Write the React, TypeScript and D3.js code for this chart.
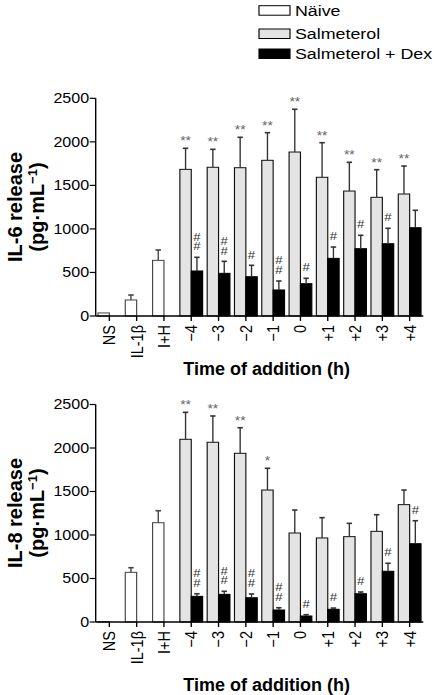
import React from 'react';
import * as d3 from 'd3';

// ---------- data ----------
const groups = ['NS', 'IL-1β', 'I+H', '−4', '−3', '−2', '−1', '0', '+1', '+2', '+3', '+4'];
const yTicks = [0, 500, 1000, 1500, 2000, 2500];
const legendLabels = ['Näive', 'Salmeterol', 'Salmeterol + Dex'];
const xTitle = 'Time of addition (h)';

// IL-6 panel
const il6Naive = [35, 184, 639, null, null, null, null, null, null, null, null, null];
const il6NaiveErr = [0, 57, 119, null, null, null, null, null, null, null, null, null];
const il6Salm = [null, null, null, 1684, 1708, 1703, 1788, 1883, 1593, 1435, 1363, 1401];
const il6SalmErr = [null, null, null, 242, 206, 349, 317, 491, 397, 330, 317, 321];
const il6Dex = [null, null, null, 517, 490, 451, 299, 371, 662, 773, 830, 1014];
const il6DexErr = [null, null, null, 157, 138, 131, 103, 62, 130, 154, 177, 200];
const il6SalmSig = ['', '', '', '**', '**', '**', '**', '**', '**', '**', '**', '**'];
const il6DexSig = ['', '', '', '##', '##', '#', '##', '#', '#', '#', '#', ''];

// IL-8 panel
const il8Naive = [5, 571, 1141, null, null, null, null, null, null, null, null, null];
const il8NaiveErr = [0, 53, 138, null, null, null, null, null, null, null, null, null];
const il8Salm = [null, null, null, 2100, 2066, 1939, 1517, 1023, 966, 981, 1042, 1349];
const il8SalmErr = [null, null, null, 310, 302, 294, 250, 264, 233, 153, 191, 168];
const il8Dex = [null, null, null, 295, 318, 279, 138, 69, 146, 325, 583, 900];
const il8DexErr = [null, null, null, 30, 35, 43, 26, 15, 14, 20, 92, 264];
const il8SalmSig = ['', '', '', '**', '**', '**', '*', '', '', '', '', ''];
const il8DexSig = ['', '', '', '##', '##', '##', '##', '#', '#', '#', '#', '#'];

// ---------- layout ----------
const W = 434;
const H = 695;
const SX = 1.15; // horizontal stretch of the original figure
const FONT = "'Liberation Sans', Arial, Helvetica, sans-serif";
const X0 = 95.7;
const X1 = 423.3;
const SALM_FILL = '#e4e4e4';

type Arr = (number | null)[];

interface PanelProps {
  y0: number;
  yTop: number;
  naive: Arr;
  naiveErr: Arr;
  salm: Arr;
  salmErr: Arr;
  dex: Arr;
  dexErr: Arr;
  salmSig: string[];
  dexSig: string[];
}

const x = d3.scaleBand<string>().domain(groups).range([X0 / SX, X1 / SX]).paddingInner(0).paddingOuter(0);
const xb = d3.scaleBand<string>().domain(['a', 'b']).range([0, x.bandwidth()]).paddingInner(0).paddingOuter(0.2);

function Panel(p: PanelProps) {
  const y = d3.scaleLinear().domain([0, 2500]).range([p.y0, p.yTop]);
  const bw = xb.bandwidth();
  const cap = 5.4 / SX;
  const items: React.ReactNode[] = [];

  const drawBar = (key: string, g: string, slot: string, v: number, e: number | null, fill: string, stroke: string, errStroke: string) => {
    const bx = (x(g) as number) + (xb(slot) as number);
    const cx = bx + bw / 2;
    items.push(
      <rect key={key + 'r'} x={bx} y={y(v)} width={bw} height={y(0) - y(v)} fill={fill} stroke={stroke} strokeWidth={1} />
    );
    if (e && e > 0) {
      items.push(
        <g key={key + 'e'} stroke={errStroke} strokeWidth={1.2}>
          <line x1={cx} x2={cx} y1={y(v)} y2={y(v + e)} />
          <line x1={cx - cap / 2} x2={cx + cap / 2} y1={y(v + e)} y2={y(v + e)} strokeWidth={1.6} />
        </g>
      );
    }
    return { cx, top: y(v + (e || 0)) };
  };

  groups.forEach((g, i) => {
    const nv = p.naive[i];
    if (nv != null) drawBar('n' + i, g, 'a', nv, p.naiveErr[i], '#ffffff', '#444', '#444');
    const sv = p.salm[i];
    if (sv != null) {
      const r = drawBar('s' + i, g, 'a', sv, p.salmErr[i], SALM_FILL, '#111', '#333');
      if (p.salmSig[i]) {
        items.push(
          <text key={'ss' + i} x={r.cx} y={r.top - 3} textAnchor="middle" fontSize={12} fill="#666" fontFamily={FONT}>
            {p.salmSig[i]}
          </text>
        );
      }
    }
    const dv = p.dex[i];
    if (dv != null) {
      const r = drawBar('d' + i, g, 'b', dv, p.dexErr[i], '#000000', '#000', '#333');
      const sig = p.dexSig[i];
      if (sig.length > 0) {
        const n = sig.length;
        items.push(
          <text key={'ds' + i} x={r.cx} y={r.top - 6.8 - (n - 1) * 9.7} textAnchor="middle" fontSize={11.5} fill="#333" fontFamily={FONT}>
            {sig.split('').map((c, k) => (
              <tspan key={k} x={r.cx} dy={k === 0 ? 0 : 9.7}>
                {c}
              </tspan>
            ))}
          </text>
        );
      }
    }
  });

  return (
    <g>
      {items}
      {/* y axis */}
      <line x1={X0 / SX} x2={X0 / SX} y1={y(0)} y2={y(2500)} stroke="#000" strokeWidth={1.2} />
      {yTicks.map((t) => (
        <g key={'yt' + t}>
          <line x1={(X0 - 6) / SX} x2={X0 / SX} y1={y(t)} y2={y(t)} stroke="#000" strokeWidth={1.2} />
          <text x={(X0 - 6.5) / SX} y={y(t)} dy="0.35em" textAnchor="end" fontSize={14} fontFamily={FONT} fill="#000">
            {t}
          </text>
        </g>
      ))}
      {/* x axis */}
      <line x1={X0 / SX} x2={X1 / SX} y1={y(0)} y2={y(0)} stroke="#000" strokeWidth={1.3} />
      {groups.map((g) => {
        const cx = (x(g) as number) + x.bandwidth() / 2;
        return (
          <g key={'xt' + g}>
            <line x1={cx} x2={cx} y1={y(0)} y2={y(0) + 5} stroke="#000" strokeWidth={1.2} />
            <text transform={`translate(${cx},${y(0) + 9}) rotate(-90)`} dy="0.35em" textAnchor="end" fontSize={14.5} fontFamily={FONT} fill="#000">
              {g}
            </text>
          </g>
        );
      })}
    </g>
  );
}

function YTitle({ cy, label }: { cy: number; label: string }) {
  return (
    <g fontFamily={FONT} fontWeight="bold" fontSize={20} fill="#000">
      <text transform={`translate(14.5,${cy}) rotate(-90)`} dy="0.35em" textAnchor="middle">
        {label}
      </text>
      <text transform={`translate(37,${cy}) rotate(-90)`} dy="0.35em" textAnchor="middle">
        <tspan>(pg·mL</tspan>
        <tspan dy="-7" fontSize={13}>−1</tspan>
        <tspan dy="7">)</tspan>
      </text>
    </g>
  );
}

export default function App() {
  const legendFills = ['#ffffff', SALM_FILL, '#000000'];
  const legendY = [5.7, 29, 49];
  return (
    <svg width={W} height={H} style={{ position: 'absolute', left: 0, top: 0, display: 'block', background: '#fff' }}>
      <rect x={0} y={0} width={W} height={H} fill="#fff" />
      <g transform={`scale(${SX},1)`}>
        {legendLabels.map((l, i) => (
          <g key={'lg' + i}>
            <rect x={259 / SX} y={legendY[i]} width={31 / SX} height={9.5} fill={legendFills[i]} stroke="#000" strokeWidth={1} />
            <text x={295 / SX} y={legendY[i] + 4.75} dy="0.36em" fontSize={15.5} fontFamily={FONT} fill="#000">
              {l}
            </text>
          </g>
        ))}
        <Panel
          y0={316}
          yTop={98.3}
          naive={il6Naive}
          naiveErr={il6NaiveErr}
          salm={il6Salm}
          salmErr={il6SalmErr}
          dex={il6Dex}
          dexErr={il6DexErr}
          salmSig={il6SalmSig}
          dexSig={il6DexSig}
        />
        <Panel
          y0={622}
          yTop={404.5}
          naive={il8Naive}
          naiveErr={il8NaiveErr}
          salm={il8Salm}
          salmErr={il8SalmErr}
          dex={il8Dex}
          dexErr={il8DexErr}
          salmSig={il8SalmSig}
          dexSig={il8DexSig}
        />
      </g>
      <YTitle cy={207} label="IL-6 release" />
      <YTitle cy={513} label="IL-8 release" />
      <text x={266.7} y={375} textAnchor="middle" fontFamily={FONT} fontWeight="bold" fontSize={18} fill="#000">
        {xTitle}
      </text>
      <text x={266.7} y={691} textAnchor="middle" fontFamily={FONT} fontWeight="bold" fontSize={18} fill="#000">
        {xTitle}
      </text>
    </svg>
  );
}
